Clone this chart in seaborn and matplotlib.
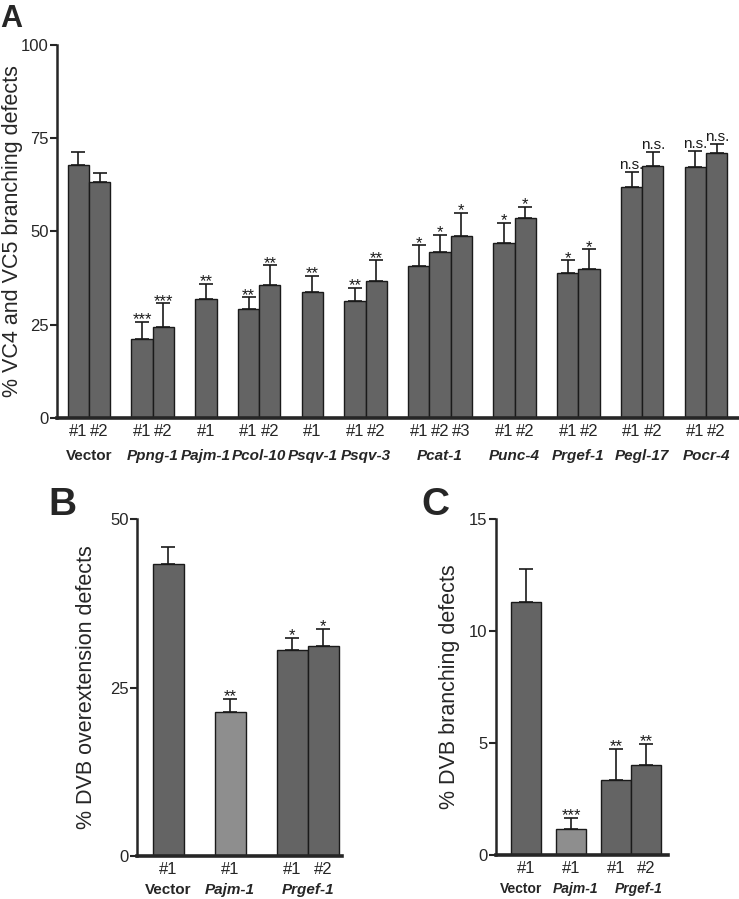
import numpy as np
import pandas as pd
import matplotlib
matplotlib.use("Agg")
import matplotlib.pyplot as plt
import matplotlib.transforms as mtransforms
import seaborn as sns

# Panel A data
a_groups = ["Vector", "Ppng-1", "Pajm-1", "Pcol-10", "Psqv-1", "Psqv-3",
            "Pcat-1", "Punc-4", "Prgef-1", "Pegl-17", "Pocr-4"]
a_lines = [["#1", "#2"], ["#1", "#2"], ["#1"], ["#1", "#2"], ["#1"], ["#1", "#2"],
           ["#1", "#2", "#3"], ["#1", "#2"], ["#1", "#2"], ["#1", "#2"], ["#1", "#2"]]
a_values = [67.8, 63.2, 21.2, 24.5, 31.8, 29.2, 35.7, 33.9, 31.5, 36.6,
            40.8, 44.5, 48.7, 46.8, 53.5, 38.9, 39.9, 61.9, 67.6, 67.3, 71.1]
a_sem = [3.4, 2.4, 4.6, 6.3, 4.2, 3.2, 5.3, 4.2, 3.4, 5.7,
         5.5, 4.6, 6.3, 5.5, 3.1, 3.4, 5.3, 4.1, 3.6, 4.4, 2.4]
a_sig = ["", "", "***", "***", "**", "**", "**", "**", "**", "**",
         "*", "*", "*", "*", "*", "*", "*", "n.s.", "n.s.", "n.s.", "n.s."]

# Panel B data
b_groups = ["Vector", "Pajm-1", "Prgef-1"]
b_lines = [["#1"], ["#1"], ["#1", "#2"]]
b_values = [43.3, 21.3, 30.6, 31.2]
b_sem = [2.5, 2.0, 1.8, 2.5]
b_sig = ["", "**", "*", "*"]

# Panel C data
c_groups = ["Vector", "Pajm-1", "Prgef-1"]
c_lines = [["#1"], ["#1"], ["#1", "#2"]]
c_values = [11.27, 1.19, 3.36, 4.04]
c_sem = [1.49, 0.49, 1.38, 0.92]
c_sig = ["", "***", "**", "**"]

dark = "#646464"
light = "#8e8e8e"

sns.set_style("ticks")
plt.rcParams['font.family'] = ['Liberation Sans', 'DejaVu Sans']


def build(groups, lines, values, sem, gap):
    rows = []
    pos = 1.0
    i = 0
    centers = []
    for g, ls in zip(groups, lines):
        start = pos
        for l in ls:
            rows.append({"group": g, "line": l, "pos": pos,
                         "value": values[i], "sem": sem[i],
                         "shade": "light" if g == "Pajm-1" and len(groups) < 5 else "dark"})
            pos += 1
            i += 1
        centers.append((start + pos - 1) / 2)
        pos += gap
    return pd.DataFrame(rows), centers


def panel(ax, df, centers, groups, sig, ylim, yticks, ylabel, xmax,
          name_size=11, name_shift=None):
    sns.barplot(data=df, x="pos", y="value", hue="shade",
                palette={"dark": dark, "light": light}, native_scale=True,
                width=1, dodge=False, edgecolor="#1a1a1a", linewidth=1.0,
                errorbar=None, legend=False, ax=ax)
    ax.errorbar(df["pos"], df["value"], yerr=[np.zeros(len(df)), df["sem"]],
                fmt="none", ecolor="#1a1a1a", elinewidth=1.2, capsize=5,
                capthick=1.2, zorder=1)
    for p, v, s, t in zip(df["pos"], df["value"], df["sem"], sig):
        if t:
            if t == "n.s.":
                ax.text(p, v + s, t, ha="center", va="bottom", fontsize=11,
                        color="#1a1a1a")
            else:
                ax.annotate(t, (p, v + s), xytext=(0, -4), textcoords="offset points",
                            ha="center", va="bottom", fontsize=12,
                            color="#1a1a1a")
    ax.set_xlim(0, xmax)
    ax.set_ylim(*ylim)
    ax.set_yticks(yticks)
    ax.set_xticks(df["pos"])
    ax.set_xticklabels(df["line"], fontsize=12)
    ax.tick_params(axis="x", length=0, pad=4)
    ax.tick_params(axis="y", length=5, width=1.5, labelsize=12, pad=1)
    ax.set_xlabel("")
    ax.set_ylabel(ylabel, fontsize=15.5)
    sns.despine(ax=ax)
    ax.spines["left"].set_linewidth(1.8)
    ax.spines["bottom"].set_linewidth(2.6)
    trans = mtransforms.blended_transform_factory(ax.transData, ax.transAxes)
    if name_shift is None:
        name_shift = [0] * len(groups)
    for c, g, sh in zip(centers, groups, name_shift):
        ax.text(c + sh, -0.103 if len(groups) > 5 else -0.1, g, transform=trans,
                ha="center", va="center", fontsize=name_size, fontweight="bold",
                fontstyle="normal" if g == "Vector" else "italic")


fig = plt.figure(figsize=(7.39, 8.99), dpi=100)

ax_a = fig.add_axes([0.0771, 0.535, 0.9215, 0.415])
df_a, cen_a = build(a_groups, a_lines, a_values, a_sem, 1)
panel(ax_a, df_a, cen_a, a_groups, a_sig, (0, 100), [0, 25, 50, 75, 100],
      "% VC4 and VC5 branching defects", 32)
ax_a.yaxis.set_label_coords(-0.050, 0.5)

ax_b = fig.add_axes([0.1854, 0.0478, 0.2774, 0.3749])
df_b, cen_b = build(b_groups, b_lines, b_values, b_sem, 1)
panel(ax_b, df_b, cen_b, b_groups, b_sig, (0, 50), [0, 25, 50],
      "% DVB overextension defects", 6.6)
ax_b.yaxis.set_label_coords(-0.195, 0.5)

ax_c = fig.add_axes([0.6712, 0.0486, 0.2323, 0.3744])
df_c, cen_c = build(c_groups, c_lines, c_values, c_sem, 0.5)
panel(ax_c, df_c, cen_c, c_groups, c_sig, (0, 15), [0, 5, 10, 15],
      "% DVB branching defects", 5.72, name_size=10, name_shift=[-0.15, 0.15, 0.25])
ax_c.yaxis.set_label_coords(-0.21, 0.5)

fig.text(0.0, 0.995, "A", fontsize=22, fontweight="bold", va="top", ha="left")
fig.text(0.066, 0.458, "B", fontsize=28, fontweight="bold", va="top", ha="left")
fig.text(0.57, 0.458, "C", fontsize=28, fontweight="bold", va="top", ha="left")

fig.savefig("out.png", dpi=100)
